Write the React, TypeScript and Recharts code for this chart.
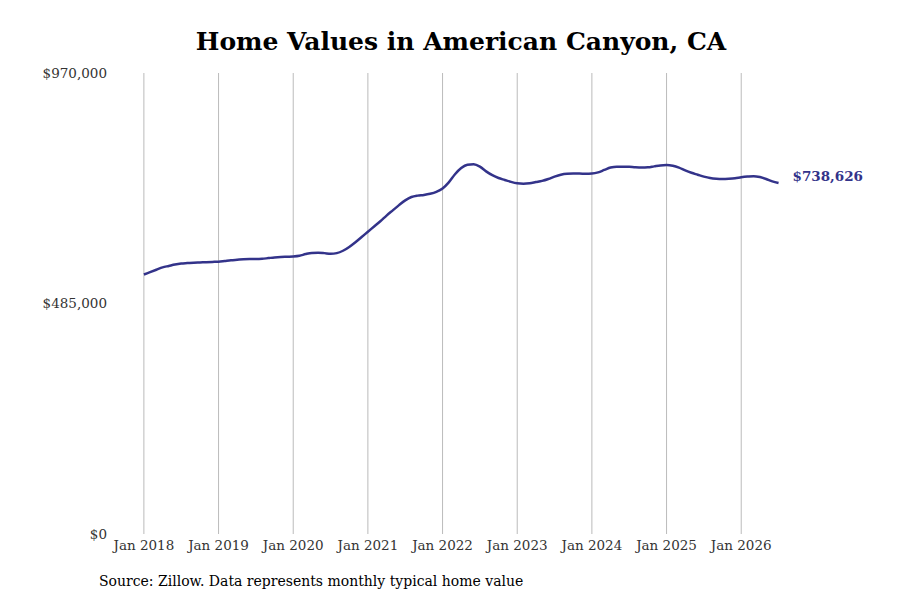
import React from 'react';
import { LineChart, Line, XAxis, YAxis, ReferenceLine, LabelList } from 'recharts';

const START_YEAR = 2018;

// monthly typical home value, Jan 2018 .. Jul 2026
const values2018 = [546000, 551000, 556000, 561000, 564000, 567000, 569000, 570000, 571000, 571500, 572000, 572500];
const values2019 = [573000, 574500, 576000, 577000, 578000, 578500, 578500, 579000, 580500, 582000, 583000, 583500];
const values2020 = [584000, 585500, 589000, 591500, 592000, 591000, 589500, 591000, 596000, 604000, 614000, 625000];
const values2021 = [636000, 647000, 658000, 670000, 681000, 692000, 702000, 709000, 712000, 713500, 716000, 720000];
const values2022 = [727000, 740000, 757000, 770000, 777000, 778000, 773000, 763000, 755000, 749000, 745000, 741000];
const values2023 = [738000, 737000, 738000, 740500, 743000, 747000, 752000, 756000, 758000, 758500, 758500, 758000];
const values2024 = [758500, 761000, 766000, 771000, 773000, 773000, 772500, 771500, 771000, 771500, 773500, 775500];
const values2025 = [776500, 775000, 771000, 765000, 760000, 756000, 752000, 749000, 747500, 747000, 747500, 748500];
const values2026 = [750500, 752000, 753000, 751000, 747000, 742000, 738626];

const yTicks = [0, 485000, 970000];
const xTicks = [0, 12, 24, 36, 48, 60, 72, 84, 96];

const allValues = [
  ...values2018, ...values2019, ...values2020, ...values2021, ...values2022,
  ...values2023, ...values2024, ...values2025, ...values2026,
];

const data = allValues.map((value, m) => ({ m, value }));

const LINE_COLOR = '#33338a';
const FONT = '"DejaVu Serif", serif';

const fmtMoney = (v: number) => '$' + v.toLocaleString('en-US');

const LastLabel = (props: any) => {
  const { x, y, index, value } = props;
  if (index !== data.length - 1) return null;
  return (
    <text x={x + 14} y={y - 5} dominantBaseline="middle" fill={LINE_COLOR} fontFamily={FONT} fontSize={13.5} fontWeight="bold">
      {fmtMoney(value)}
    </text>
  );
};

export default function App() {
  return (
    <div style={{ position: 'absolute', left: 0, top: 0, width: 900, height: 600, background: '#fff', fontFamily: FONT }}>
      <div style={{ position: 'absolute', left: 11, top: 27, width: 900, textAlign: 'center', fontSize: 25, fontWeight: 'bold', color: '#000' }}>
        Home Values in American Canyon, CA
      </div>
      <LineChart width={900} height={600} data={data} margin={{ top: 73, right: 109, left: 0, bottom: 36 }}>
        {xTicks.map(t => (
          <ReferenceLine key={t} x={t} stroke="#bbbbbb" strokeWidth={1} />
        ))}
        <XAxis
          dataKey="m"
          type="number"
          domain={[-4, 104]}
          ticks={xTicks}
          allowDataOverflow
          tickFormatter={(m: number) => `Jan ${START_YEAR + m / 12}`}
          axisLine={false}
          tickLine={false}
          tickSize={0}
          tickMargin={6}
          height={30}
          tick={{ fill: '#333', fontSize: 13.5, fontFamily: FONT }}
        />
        <YAxis
          type="number"
          domain={[0, 970000]}
          ticks={yTicks}
          tickFormatter={fmtMoney}
          axisLine={false}
          tickLine={false}
          tickSize={0}
          tickMargin={12}
          width={119}
          tick={{ fill: '#333', fontSize: 13.5, fontFamily: FONT }}
        />
        <Line type="monotone" dataKey="value" stroke={LINE_COLOR} strokeWidth={2.5} dot={false} isAnimationActive={false}>
          <LabelList dataKey="value" content={LastLabel} />
        </Line>
      </LineChart>
      <div style={{ position: 'absolute', left: 99, top: 573, fontSize: 14, color: '#000' }}>
        Source: Zillow. Data represents monthly typical home value
      </div>
    </div>
  );
}
